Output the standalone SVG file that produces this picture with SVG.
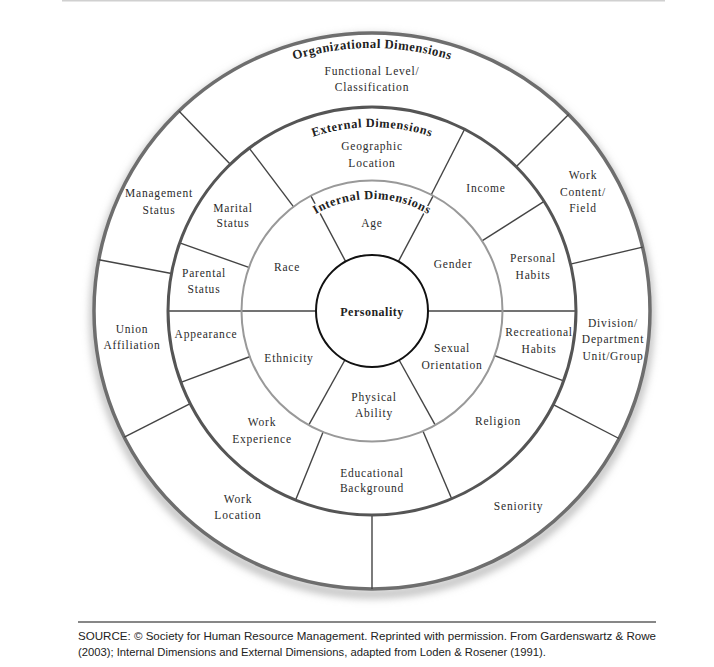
<svg xmlns="http://www.w3.org/2000/svg" width="714" height="667" viewBox="0 0 714 667">
<defs>
<filter id="sh" x="-20%" y="-20%" width="140%" height="140%"><feGaussianBlur stdDeviation="4"/></filter>
<path id="arcOrg" d="M144.2,179.5 A263,263 0 0 1 599.8,179.5"/>
<path id="arcExt" d="M212.7,219 A184,184 0 0 1 531.3,219"/>
<path id="arcInt" d="M275,255 A112,112 0 0 1 469,255"/>
<style>
.lbl{font-family:"Liberation Serif","DejaVu Serif",serif;font-size:11.5px;letter-spacing:0.8px;fill:#2b2b2b;text-anchor:middle}
.ttl{font-family:"Liberation Serif","DejaVu Serif",serif;font-weight:bold;fill:#222;stroke:#fff;stroke-width:3px;paint-order:stroke;stroke-linejoin:round}
.div{stroke:#444;stroke-width:1.4;fill:none}
.src{font-family:"Liberation Sans","DejaVu Sans",sans-serif;font-size:11px;fill:#222}
</style>
</defs>
<rect width="714" height="667" fill="#fff"/>
<line x1="62" y1="0.8" x2="665" y2="0.8" stroke="#d0d0d0" stroke-width="1.5"/>
<circle cx="372" cy="316" r="278" fill="none" stroke="#b0b0b0" stroke-width="7" filter="url(#sh)"/>
<circle cx="372" cy="311" r="278" fill="#fff" stroke="#6e6e6e" stroke-width="3.5"/>
<g id="connectors">
<line class="div" x1="168" y1="311" x2="316" y2="311"/>
<line class="div" x1="428" y1="311" x2="576" y2="311"/>
<line class="div" x1="345.7" y1="261.6" x2="311" y2="196.2"/>
<line class="div" x1="398.3" y1="261.6" x2="433" y2="196.2"/>
<line class="div" x1="399.1" y1="360" x2="435" y2="424.7"/>
<line class="div" x1="344.9" y1="360" x2="309" y2="424.7"/>
<line class="div" x1="293.8" y1="207.2" x2="249.2" y2="148.1"/>
<line class="div" x1="431" y1="195.2" x2="464.6" y2="129.2"/>
<line class="div" x1="481.6" y1="241.2" x2="544.1" y2="201.4"/>
<line class="div" x1="494.2" y1="355.5" x2="563.7" y2="380.8"/>
<line class="div" x1="422.8" y1="430.7" x2="451.7" y2="498.8"/>
<line class="div" x1="323.3" y1="431.5" x2="295.6" y2="500.1"/>
<line class="div" x1="250.2" y1="356.5" x2="180.9" y2="382.4"/>
<line class="div" x1="249.5" y1="267.6" x2="179.7" y2="242.9"/>
<line class="div" x1="230.3" y1="164.3" x2="178.9" y2="111"/>
<line class="div" x1="516.2" y1="166.8" x2="568.6" y2="114.4"/>
<line class="div" x1="570.5" y1="264.1" x2="642.6" y2="247.1"/>
<line class="div" x1="553.3" y1="404.6" x2="619" y2="438.5"/>
<line class="div" x1="372" y1="515" x2="372" y2="589"/>
<line class="div" x1="190.2" y1="403.6" x2="124.3" y2="437.2"/>
<line class="div" x1="171.5" y1="273.5" x2="98.8" y2="259.8"/>
</g>
<circle cx="372" cy="311" r="204" fill="none" stroke="#555" stroke-width="3"/>
<circle cx="372" cy="311" r="130.5" fill="none" stroke="#999" stroke-width="2"/>
<g id="personality">
<circle cx="372" cy="311" r="56" fill="#fff" stroke="#111" stroke-width="2"/>
<text x="372" y="315.5" class="lbl" style="font-weight:bold;font-size:12px;letter-spacing:0.5px;fill:#222">Personality</text>
</g>
<g id="titles">
<text class="ttl" font-size="13" letter-spacing="0.3"><textPath href="#arcOrg" startOffset="50%" text-anchor="middle">Organizational Dimensions</textPath></text>
<text class="ttl" font-size="12.5" letter-spacing="0.45"><textPath href="#arcExt" startOffset="50%" text-anchor="middle">External Dimensions</textPath></text>
<text class="ttl" font-size="12.5" letter-spacing="0.5"><textPath href="#arcInt" startOffset="50%" text-anchor="middle">Internal Dimensions</textPath></text>
</g>
<g id="org-functional"><text class="lbl" x="372" y="75">Functional Level/</text><text class="lbl" x="372" y="91">Classification</text></g>
<g id="org-work-content"><text class="lbl" x="583" y="179">Work</text><text class="lbl" x="583" y="196">Content/</text><text class="lbl" x="583" y="212">Field</text></g>
<g id="org-division"><text class="lbl" x="613" y="327">Division/</text><text class="lbl" x="613" y="343">Department</text><text class="lbl" x="613" y="360">Unit/Group</text></g>
<g id="org-seniority"><text class="lbl" x="518.5" y="510">Seniority</text></g>
<g id="org-work-location"><text class="lbl" x="238" y="503">Work</text><text class="lbl" x="238" y="519">Location</text></g>
<g id="org-union"><text class="lbl" x="132" y="333">Union</text><text class="lbl" x="132" y="349">Affiliation</text></g>
<g id="org-management"><text class="lbl" x="159" y="197">Management</text><text class="lbl" x="159" y="214">Status</text></g>
<g id="ext-geographic"><text class="lbl" x="372" y="150">Geographic</text><text class="lbl" x="372" y="167">Location</text></g>
<g id="ext-income"><text class="lbl" x="486" y="192">Income</text></g>
<g id="ext-personal-habits"><text class="lbl" x="533" y="262">Personal</text><text class="lbl" x="533" y="279">Habits</text></g>
<g id="ext-recreational"><text class="lbl" x="539" y="336">Recreational</text><text class="lbl" x="539" y="353">Habits</text></g>
<g id="ext-religion"><text class="lbl" x="498" y="425">Religion</text></g>
<g id="ext-educational"><text class="lbl" x="372" y="477">Educational</text><text class="lbl" x="372" y="492">Background</text></g>
<g id="ext-work-experience"><text class="lbl" x="262" y="426">Work</text><text class="lbl" x="262" y="443">Experience</text></g>
<g id="ext-appearance"><text class="lbl" x="206" y="338">Appearance</text></g>
<g id="ext-parental"><text class="lbl" x="204" y="277">Parental</text><text class="lbl" x="204" y="293">Status</text></g>
<g id="ext-marital"><text class="lbl" x="233" y="212">Marital</text><text class="lbl" x="233" y="227">Status</text></g>
<g id="int-age"><text class="lbl" x="372" y="227">Age</text></g>
<g id="int-race"><text class="lbl" x="287" y="271">Race</text></g>
<g id="int-gender"><text class="lbl" x="453" y="268">Gender</text></g>
<g id="int-ethnicity"><text class="lbl" x="289" y="362">Ethnicity</text></g>
<g id="int-sexual"><text class="lbl" x="452" y="352">Sexual</text><text class="lbl" x="452" y="369">Orientation</text></g>
<g id="int-physical"><text class="lbl" x="374" y="401">Physical</text><text class="lbl" x="374" y="417">Ability</text></g>
<g id="source">
<line x1="78" y1="622" x2="656" y2="622" stroke="#111" stroke-width="1.2"/>
<text class="src" x="78" y="640" textLength="578" lengthAdjust="spacingAndGlyphs">SOURCE: © Society for Human Resource Management. Reprinted with permission. From Gardenswartz &amp; Rowe</text>
<text class="src" x="78" y="656" textLength="468" lengthAdjust="spacingAndGlyphs">(2003); Internal Dimensions and External Dimensions, adapted from Loden &amp; Rosener (1991).</text>
</g>
</svg>
